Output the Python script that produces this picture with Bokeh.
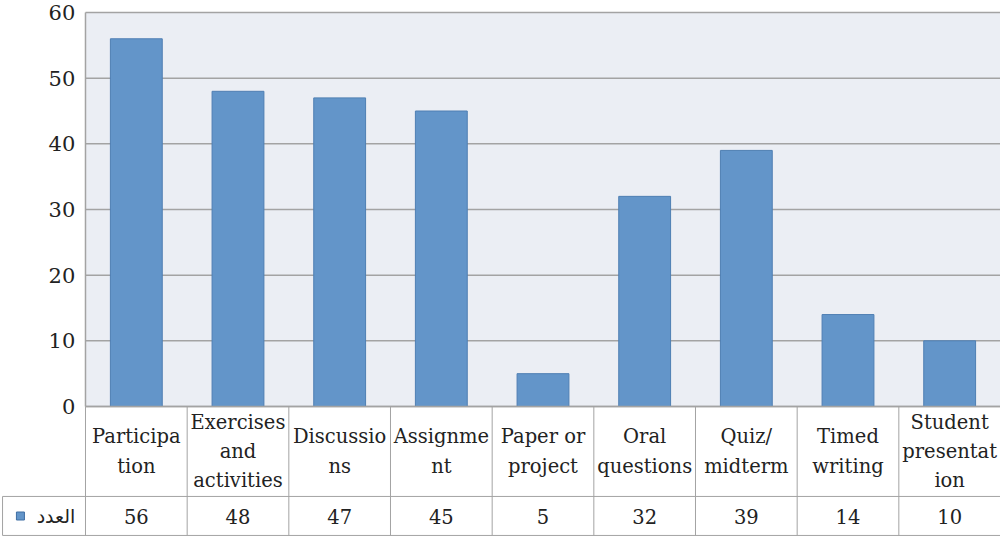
from bokeh.plotting import figure
from bokeh.models import Range1d, ColumnDataSource
from bokeh.core.properties import value
from bokeh.embed import file_html
from bokeh.resources import INLINE

categories = ["Participa\ntion", "Exercises\nand\nactivities", "Discussio\nns",
              "Assignme\nnt", "Paper or\nproject", "Oral\nquestions",
              "Quiz/\nmidterm", "Timed\nwriting", "Student\npresentat\nion"]
counts = [56, 48, 47, 45, 5, 32, 39, 14, 10]
y_ticks = [0, 10, 20, 30, 40, 50, 60]
series_name = "العدد"

FONT = "DejaVu Serif"
TXT = "#222222"
GRID = "#a3a3a3"
BAR = "#6395c9"
n = len(categories)
xs = [i + 0.5 for i in range(n)]
LX = -0.836  # left edge of the legend column

p = figure(width=1000, height=536, output_backend="svg", toolbar_location=None,
           x_range=Range1d(LX, n), y_range=Range1d(-19.8, 61.83),
           min_border_left=0, min_border_right=0, min_border_top=0, min_border_bottom=0)
p.axis.visible = False
p.grid.visible = False
p.outline_line_color = None
p.background_fill_color = "white"
p.border_fill_color = "white"

# plot area
p.quad(left=[0], right=[n], bottom=[0], top=[max(y_ticks)], fill_color="#ebeef4", line_color=None)
# gridlines
p.segment(x0=[0] * len(y_ticks), x1=[n] * len(y_ticks), y0=y_ticks, y1=y_ticks,
          line_color=GRID, line_width=1.5)
p.segment(x0=[0], x1=[0], y0=[0], y1=[max(y_ticks)], line_color=GRID, line_width=1.5)

# bars
src = ColumnDataSource(dict(x=xs, top=counts, cat=categories,
                            lab=[str(v) for v in counts]))
p.vbar(x="x", top="top", width=0.51, source=src, fill_color=BAR, line_color="#4f7fb3", line_width=1)

# y tick labels
p.text(x=[-0.1] * len(y_ticks), y=y_ticks, text=[str(t) for t in y_ticks],
       text_align="right", text_baseline="middle", text_font=value(FONT),
       text_font_size="21px", text_color=TXT)

# data table
y_sep = -13.7
y_bot = -19.64
p.segment(x0=[0], x1=[n], y0=[0], y1=[0], line_color=GRID, line_width=1.5)
p.segment(x0=[LX + 0.02, LX + 0.02], x1=[n, n], y0=[y_sep, y_bot], y1=[y_sep, y_bot],
          line_color=GRID, line_width=1)
vx = list(range(n + 1))
p.segment(x0=vx, x1=vx, y0=[0] * len(vx), y1=[y_bot] * len(vx), line_color=GRID, line_width=1)
p.segment(x0=[LX + 0.02], x1=[LX + 0.02], y0=[y_sep], y1=[y_bot], line_color=GRID, line_width=1)

p.text(x="x", y=-6.85, text="cat", source=src, text_align="center", text_baseline="middle",
       text_font=value(FONT), text_font_size="19.5px", text_color=TXT, text_line_height=1.27)
p.text(x="x", y=-16.68, text="lab", source=src, text_align="center", text_baseline="middle",
       text_font=value(FONT), text_font_size="19.5px", text_color=TXT)

# legend key
p.scatter(x=[-0.64], y=[-16.68], marker="square", size=8, fill_color=BAR, line_color="#3f6ea3")
p.text(x=[-0.1], y=[-16.68], text=[series_name], text_align="right", text_baseline="middle",
       text_font=value("DejaVu Sans"), text_font_size="19px", text_color=TXT)

open("out.html", "w").write(file_html(p, INLINE))
